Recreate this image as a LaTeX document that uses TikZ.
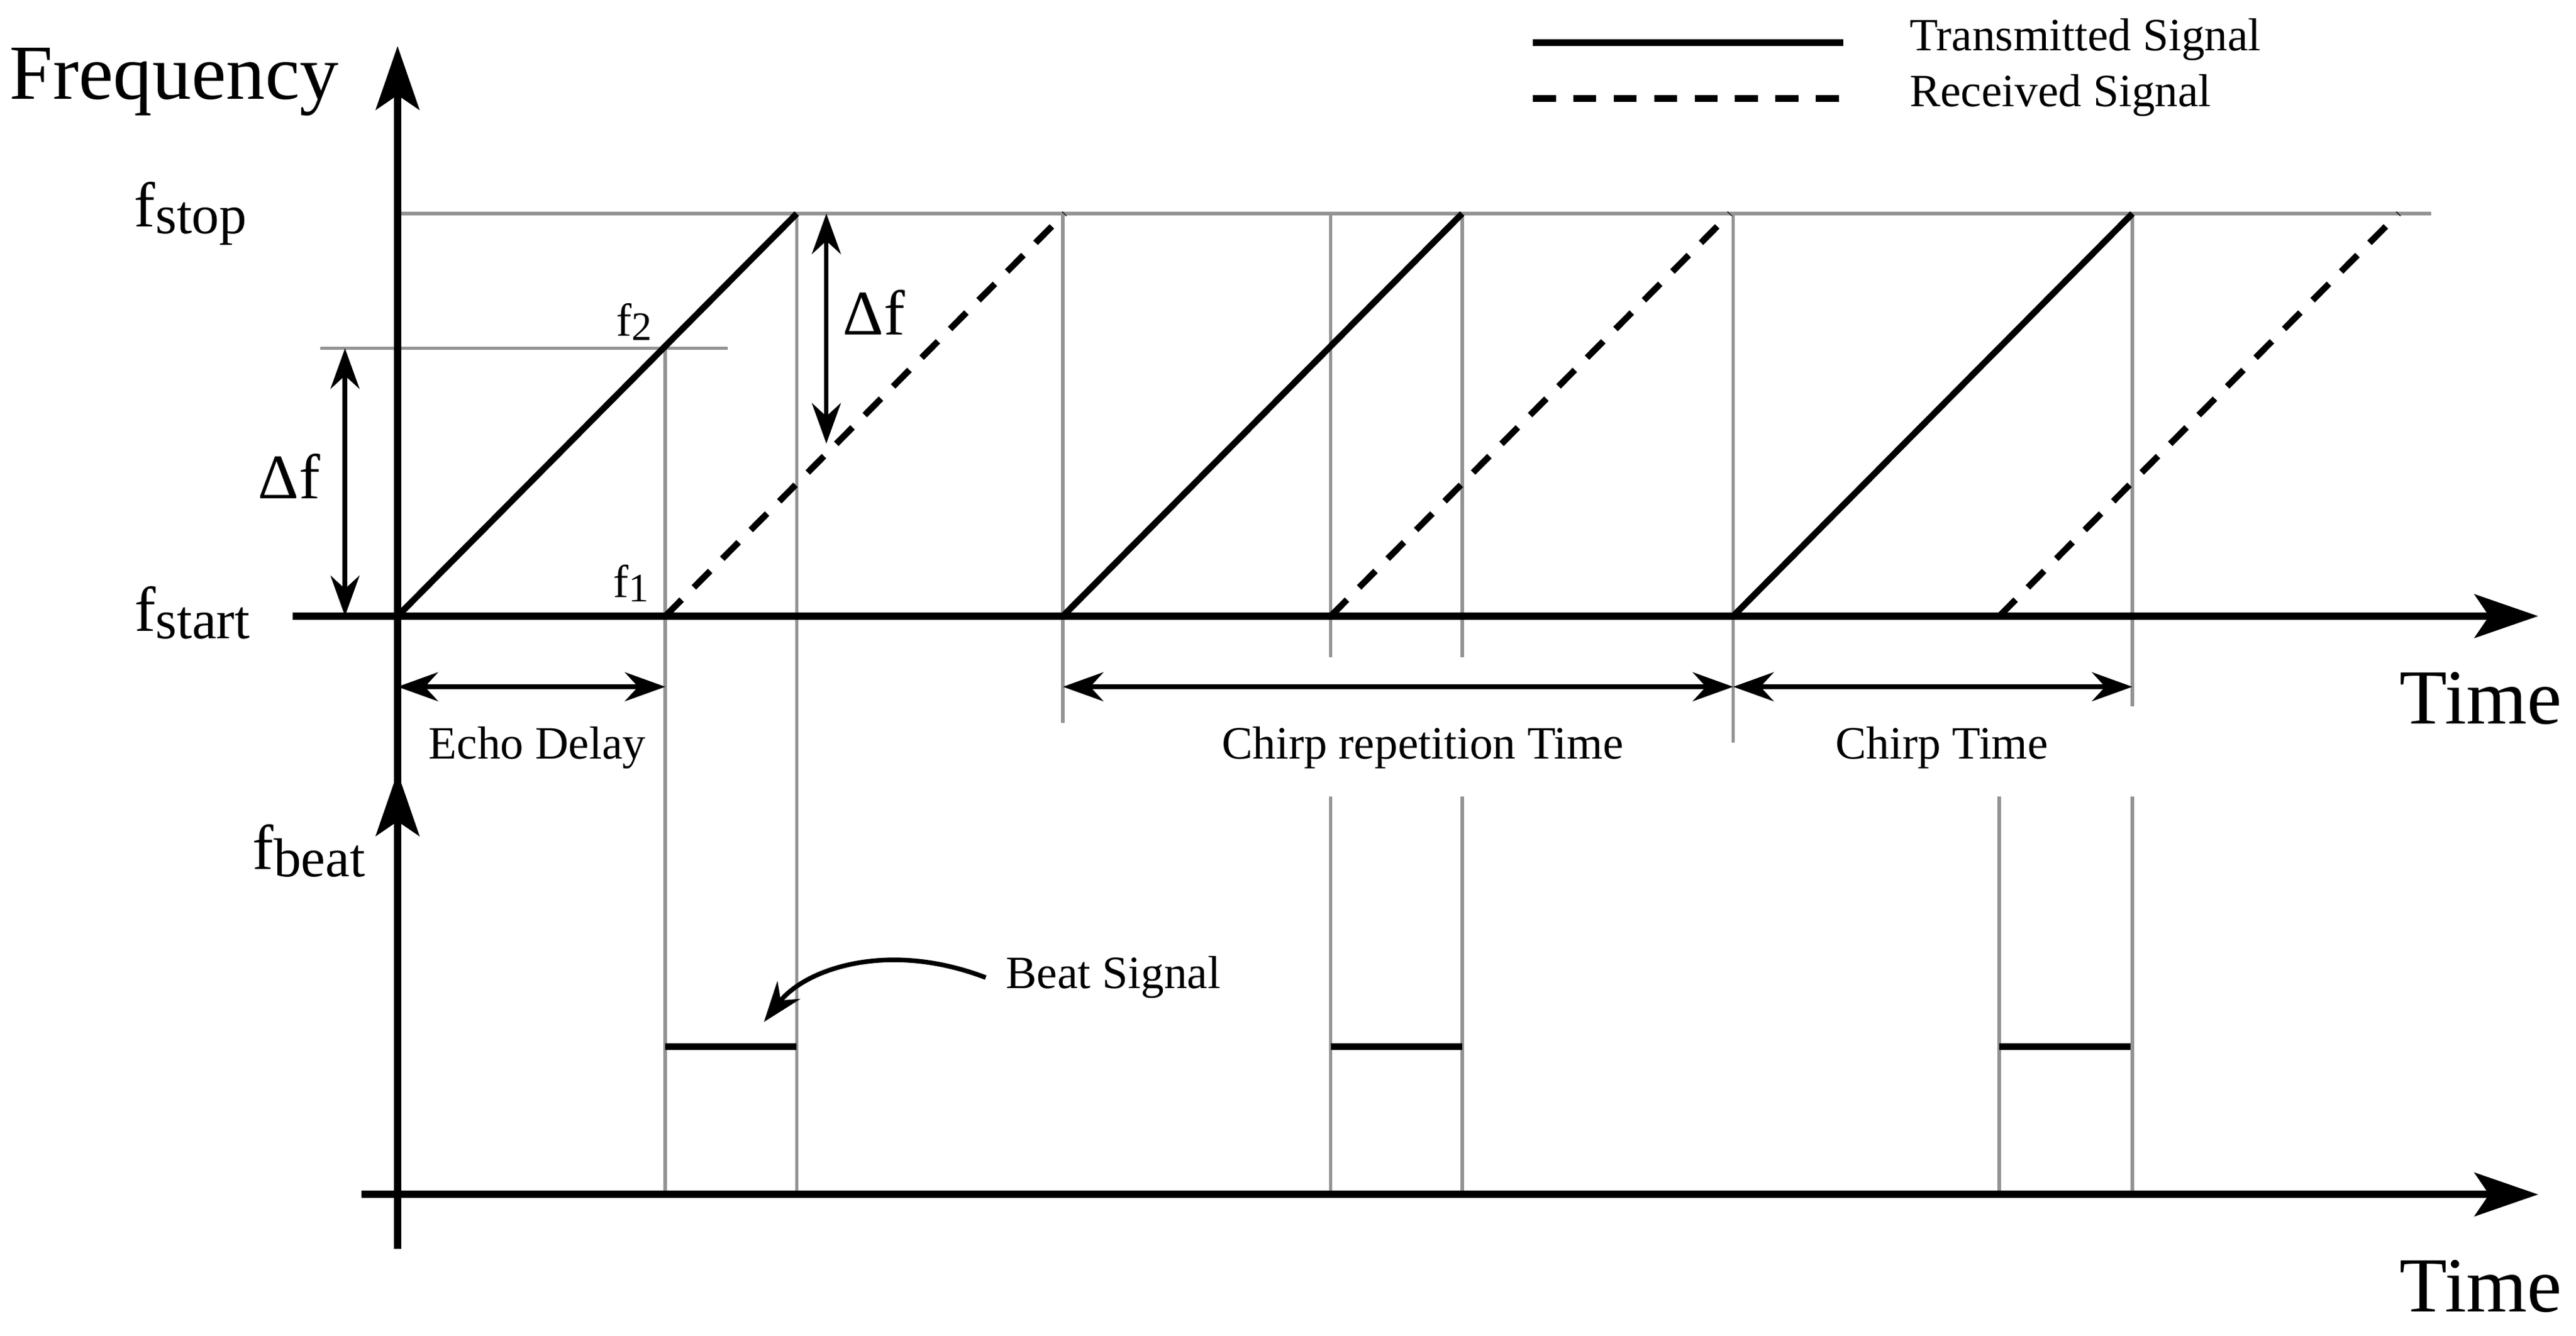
\documentclass[tikz,border=0pt]{standalone}
\usepackage{fontspec}
\setmainfont{Liberation Serif}
\usetikzlibrary{arrows.meta,positioning}

\tikzset{
  axis/.style={line width=1.3pt,-{Stealth[length=11pt,width=7.5pt,inset=2.5pt]}},
  grid/.style={gray!85,line width=0.6pt},
  tx/.style={line width=1.1pt},
  rx/.style={line width=1.1pt,dash pattern=on 4pt off 3pt},
  span/.style={line width=0.8pt,{Stealth[length=7pt,width=5pt]}-{Stealth[length=7pt,width=5pt]}},
  big/.style={font=\fontsize{13.5}{16}\selectfont},
  lbl/.style={font=\fontsize{8}{10}\selectfont},
  mid/.style={font=\fontsize{11}{13}\selectfont},
}
\newcommand{\fsub}[1]{f\raisebox{-0.25ex}{\fontsize{9.5}{11}\selectfont #1}}

\begin{document}
\begin{tikzpicture}[x=0.01cm,y=-0.01cm]
\useasboundingbox (0,0) rectangle (1568,813);
% axes
\coordinate (fb) at (242,760); \coordinate (ft) at (242,28);
\coordinate (bt) at (242,470);
\coordinate (tl) at (178,375); \coordinate (tr) at (1545,375);
\coordinate (ll) at (220,727); \coordinate (lr) at (1545,727);
% grid lines
\coordinate (s0) at (242,130); \coordinate (s1) at (1480,130);
\draw[grid] (s0) -- (s1);
\coordinate (h0) at (195,212); \coordinate (h1) at (443,212);
\draw[grid] (h0) -- (h1);
\foreach \x/\a/\b in {405/212/727,485/130/727,647/130/440,1055/130/452}
  \draw[grid] (\x,\a) -- (\x,\b);
\foreach \x in {810,890,1298}{
  \draw[grid] (\x,130) -- (\x,400);
  \draw[grid] (\x,485) -- (\x,727);}
\draw[grid] (1298,400) -- (1298,430);
\draw[grid] (1217,485) -- (1217,727);
\draw[axis] (fb) -- (ft);
\draw[axis] (tl) -- (tr);
\draw[axis] (ll) -- (lr);
\draw[axis] (242,760) -- (bt);
% chirps
\foreach \x in {242,647,1055}{
  \coordinate (a\x) at (\x,375); \coordinate (b\x) at (\x+243,130);
  \draw[tx] (a\x) -- (b\x);}
\foreach \x in {405,810,1217}{
  \coordinate (c\x) at (\x,375); \coordinate (d\x) at (\x+243,130);
  \draw[rx] (c\x) -- (d\x);
  \coordinate (e\x) at (\x,637); \coordinate (g\x) at (\x+80,637);
  \draw[tx] (e\x) -- (g\x);}
% spans
\coordinate (df0) at (210,212); \coordinate (df1) at (210,375);
\draw[span] (df0) -- (df1);
\coordinate (dg0) at (503,130); \coordinate (dg1) at (503,270);
\draw[span] (dg0) -- (dg1);
\coordinate (p0) at (242,418); \coordinate (p1) at (405,418);
\coordinate (p2) at (647,418); \coordinate (p3) at (1055,418);
\coordinate (p4) at (1298,418);
\draw[span] (p0) -- (p1);
\draw[span] (p2) -- (p3);
\draw[span] (p3) -- (p4);
% labels
\node[big] (freq) at (106,50) {Frequency};
\node[big] (tu) at (1510,425) {Time};
\node[big] (tb) at (1510,783) {Time};
\node[mid] (fstop) at (116,130) {\fsub{stop}};
\node[mid] (fstart) at (117,373) {\fsub{start}};
\node[mid] (fbeat) at (188,518) {\fsub{beat}};
\node[mid] (dfa) at (176,290) {Δf};
\node[mid] (dfb) at (532,190) {Δf};
\node[lbl] (f2) at (386,196) {f\raisebox{-0.2ex}{\scriptsize 2}};
\node[lbl] (f1) at (384,355) {f\raisebox{-0.2ex}{\scriptsize 1}};
\node[lbl] (echo) at (327,455) {Echo Delay};
\node[lbl] (crt) at (866,455) {Chirp repetition Time};
\node[lbl] (ct) at (1182,455) {Chirp Time};
\node[lbl,anchor=west] (beat) at (600,595) {Beat Signal};
\draw[line width=0.8pt,-{Stealth[length=7pt,width=5pt]}] (beat.west) .. controls (540,572) and (490,590) .. (465,622);
% legend
\coordinate (l0) at (933,26); \coordinate (l1) at (1122,26);
\coordinate (l2) at (933,60); \coordinate (l3) at (1122,60);
\draw[tx] (l0) -- (l1);
\draw[rx] (l2) -- (l3);
\node[lbl,anchor=west] (ltx) at (1150,24) {Transmitted Signal};
\node[lbl,anchor=west] (lrx) at (1150,58) {Received Signal};
\end{tikzpicture}
\end{document}
